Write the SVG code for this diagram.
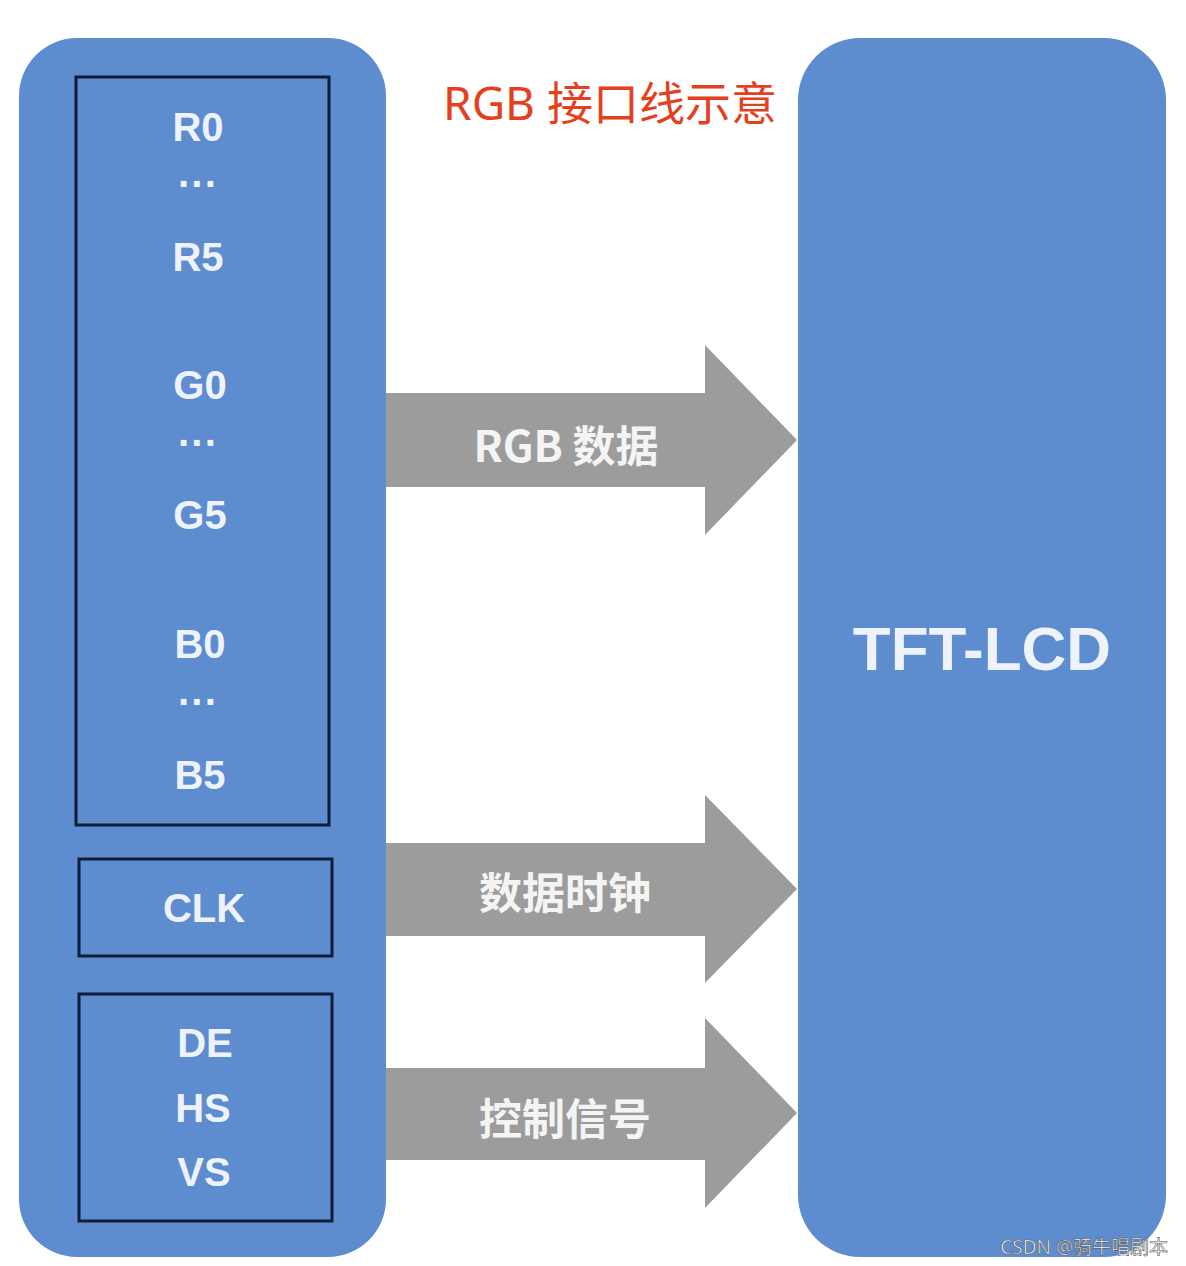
<svg xmlns="http://www.w3.org/2000/svg" width="1186" height="1266" viewBox="0 0 1186 1266">
<style>
.panel{fill:#5d8dcf}
.box{fill:none;stroke:#0f1c3c;stroke-width:3}
.sig{font-family:"Liberation Sans","Noto Sans",sans-serif;font-weight:bold;font-size:40px;fill:#eef3fb;text-anchor:middle;dominant-baseline:central}
.arrow{fill:#9c9c9c}
.alab{font-family:"Noto Sans CJK SC","Liberation Sans",sans-serif;font-weight:bold;font-size:43px;fill:#f4f4f4;text-anchor:middle;dominant-baseline:central}
</style>
<rect width="1186" height="1266" fill="#ffffff"/>
<g id="title">
<text x="610" y="102" font-family="'Noto Sans','Noto Sans CJK SC',sans-serif" font-size="46" fill="#e5401e" text-anchor="middle" dominant-baseline="central">RGB 接口线示意</text>
</g>
<g id="source">
<rect class="panel" x="19" y="38" width="367" height="1219" rx="58"/>
</g>
<g id="rgb-box">
<rect class="box" x="76" y="77" width="253" height="748"/>
<text class="sig" x="198" y="127">R0</text>
<text class="sig" x="198" y="184">···</text>
<text class="sig" x="198" y="257">R5</text>
<text class="sig" x="200" y="385">G0</text>
<text class="sig" x="198" y="443">···</text>
<text class="sig" x="200" y="515">G5</text>
<text class="sig" x="200" y="644">B0</text>
<text class="sig" x="198" y="702">···</text>
<text class="sig" x="200" y="775">B5</text>
</g>
<g id="clk-box">
<rect class="box" x="79" y="859" width="253" height="97"/>
<text class="sig" x="204" y="908">CLK</text>
</g>
<g id="ctrl-box">
<rect class="box" x="79" y="994" width="253" height="227"/>
<text class="sig" x="205" y="1043">DE</text>
<text class="sig" x="203" y="1108">HS</text>
<text class="sig" x="204" y="1172">VS</text>
</g>
<g id="lcd">
<rect class="panel" x="798" y="38" width="368" height="1219" rx="62"/>
<text x="982" y="648" font-family="'Liberation Sans',sans-serif" font-weight="bold" font-size="62" fill="#eef3fb" text-anchor="middle" dominant-baseline="central">TFT-LCD</text>
</g>
<g id="connectors">
<polygon class="arrow" points="386,393 705,393 705,345 797,440 705,535 705,487 386,487"/>
<text class="alab" x="566" y="443">RGB 数据</text>
<polygon class="arrow" points="386,843 705,843 705,795 797,889 705,983 705,936 386,936"/>
<text class="alab" x="565" y="890">数据时钟</text>
<polygon class="arrow" points="386,1068 705,1068 705,1018 797,1113 705,1208 705,1160 386,1160"/>
<text class="alab" x="565" y="1116">控制信号</text>
</g>
<g id="watermark">
<text x="1168" y="1247" font-family="'Noto Sans','Noto Sans CJK SC',sans-serif" font-size="19" fill="#ffffff" stroke="#555555" stroke-width="0.6" text-anchor="end" dominant-baseline="central">CSDN @骑牛唱剧本</text>
</g>
</svg>
